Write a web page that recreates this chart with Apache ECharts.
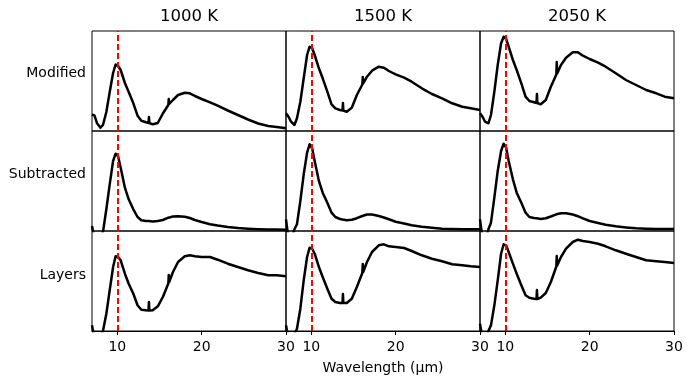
<!DOCTYPE html>
<html>
<head>
    <meta charset="UTF-8">
    <title>Spectra grid</title>
    <script src="https://cdn.jsdelivr.net/npm/echarts@6/dist/echarts.min.js"></script>
    <style>
        html, body {
            margin: 0;
            padding: 0;
            background: #fff;
        }

        #chartContainer {
            width: 692px;
            height: 385px;
        }
    </style>
</head>
<body>
<div id="chartContainer"></div>
<script>
    // shared wavelength grid (µm)
    var wavelength = [7, 7.3, 7.6, 8.0, 8.3, 8.7, 9.1, 9.5, 9.8, 10.1, 10.4, 10.9, 11.35, 11.9, 12.4, 12.85, 13.4,
        13.7, 13.75, 13.8, 14.2, 14.8, 15.4, 16.05, 16.1, 16.15, 16.6, 17.2, 18.0, 18.6, 19.2, 20, 21, 21.9,
        23.1, 24.3, 25.5, 26.7, 27.9, 28.9, 30];

    var temperatures = ['1000 K', '1500 K', '2050 K'];
    var methods = ['Modified', 'Subtracted', 'Layers'];
    var tickValues = [10, 20, 30];
    var markerWavelength = 10;

    // normalised intensity, one array per panel
    var modified1000 = [0.167, 0.153, 0.077, 0.033, 0.06, 0.19, 0.39, 0.58, 0.665, 0.65, 0.61, 0.48, 0.39, 0.277,
        0.153, 0.103, 0.087, 0.08, 0.14, 0.08, 0.067, 0.08, 0.175, 0.26, 0.32, 0.27, 0.31, 0.36, 0.383, 0.377, 0.35,
        0.32, 0.287, 0.253, 0.205, 0.16, 0.115, 0.075, 0.05, 0.04, 0.027];
    var modified1500 = [0.177, 0.143, 0.093, 0.06, 0.127, 0.293, 0.527, 0.76, 0.843, 0.827, 0.76, 0.627, 0.527,
        0.393, 0.267, 0.227, 0.21, 0.205, 0.28, 0.205, 0.193, 0.233, 0.36, 0.465, 0.54, 0.475, 0.543, 0.603, 0.643,
        0.633, 0.6, 0.567, 0.533, 0.493, 0.427, 0.37, 0.327, 0.277, 0.243, 0.227, 0.21];
    var modified2050 = [0.177, 0.143, 0.093, 0.077, 0.16, 0.393, 0.66, 0.877, 0.943, 0.92, 0.843, 0.71, 0.61,
        0.477, 0.343, 0.3, 0.287, 0.28, 0.37, 0.28, 0.267, 0.31, 0.443, 0.565, 0.69, 0.575, 0.66, 0.733, 0.787,
        0.787, 0.753, 0.72, 0.683, 0.643, 0.577, 0.51, 0.46, 0.41, 0.377, 0.343, 0.327];

    var subtracted1000 = [0.05, -0.08, -0.1, -0.05, -0.01, 0.217, 0.467, 0.7, 0.773, 0.745, 0.633, 0.433, 0.317,
        0.217, 0.14, 0.107, 0.1, 0.1, 0.12, 0.1, 0.095, 0.1, 0.11, 0.133, 0.135, 0.133, 0.145, 0.148, 0.142, 0.13,
        0.11, 0.09, 0.068, 0.055, 0.04, 0.03, 0.023, 0.018, 0.015, 0.014, 0.013];
    var subtracted1500 = [0.117, -0.08, -0.1, 0.017, 0.067, 0.3, 0.567, 0.783, 0.867, 0.827, 0.7, 0.5, 0.383,
        0.283, 0.183, 0.14, 0.12, 0.115, 0.13, 0.115, 0.108, 0.112, 0.128, 0.15, 0.152, 0.15, 0.165, 0.165, 0.15,
        0.135, 0.117, 0.093, 0.075, 0.057, 0.042, 0.032, 0.023, 0.02, 0.018, 0.017, 0.017];
    var subtracted2050 = [0.117, -0.08, -0.1, 0.017, 0.083, 0.333, 0.6, 0.8, 0.873, 0.833, 0.7, 0.517, 0.383,
        0.283, 0.183, 0.14, 0.13, 0.127, 0.14, 0.127, 0.12, 0.128, 0.145, 0.167, 0.169, 0.167, 0.178, 0.178, 0.165,
        0.148, 0.127, 0.1, 0.08, 0.062, 0.047, 0.036, 0.027, 0.023, 0.021, 0.02, 0.02];

    var layers1000 = [0.057, -0.08, -0.1, -0.05, 0.0, 0.173, 0.407, 0.64, 0.747, 0.74, 0.707, 0.573, 0.473, 0.373,
        0.257, 0.213, 0.207, 0.205, 0.29, 0.205, 0.207, 0.247, 0.34, 0.475, 0.56, 0.49, 0.59, 0.69, 0.747, 0.757,
        0.747, 0.74, 0.74, 0.713, 0.673, 0.64, 0.607, 0.58, 0.557, 0.557, 0.547];
    var layers1500 = [0.057, -0.08, -0.1, -0.03, 0.023, 0.223, 0.507, 0.74, 0.833, 0.823, 0.773, 0.64, 0.54,
        0.423, 0.323, 0.29, 0.28, 0.28, 0.37, 0.28, 0.28, 0.323, 0.44, 0.58, 0.67, 0.59, 0.69, 0.79, 0.857, 0.867,
        0.847, 0.84, 0.83, 0.8, 0.757, 0.723, 0.697, 0.667, 0.657, 0.647, 0.64];
    var layers2050 = [0.073, -0.08, -0.1, 0.0, 0.057, 0.257, 0.507, 0.773, 0.867, 0.857, 0.79, 0.673, 0.573,
        0.457, 0.357, 0.333, 0.323, 0.32, 0.41, 0.32, 0.333, 0.38, 0.49, 0.645, 0.75, 0.655, 0.74, 0.823, 0.89,
        0.913, 0.9, 0.89, 0.873, 0.847, 0.807, 0.773, 0.74, 0.707, 0.697, 0.69, 0.68];

    var panels = [
        [modified1000, modified1500, modified2050],
        [subtracted1000, subtracted1500, subtracted2050],
        [layers1000, layers1500, layers2050]
    ];

    var font = 'DejaVu Sans';

    function pairs(ys) {
        var out = [];
        for (var i = 0; i < wavelength.length; i++) {
            out.push([wavelength[i], ys[i]]);
        }
        return out;
    }

    function buildOption() {
        var grids = [], xAxes = [], yAxes = [], series = [], graphics = [];
        var lefts = [92, 286, 480];
        var tops = [31, 131, 231];
        var w = 194, h = 100;

        for (var r = 0; r < 3; r++) {
            for (var c = 0; c < 3; c++) {
                var idx = grids.length;
                var bottomRow = r === 2;
                grids.push({
                    left: lefts[c], top: tops[r], width: w, height: h,
                    show: true, borderColor: '#000', borderWidth: 1, backgroundColor: 'transparent'
                });
                xAxes.push({
                    type: 'value', gridIndex: idx, min: 7, max: 30,
                    axisLine: {show: bottomRow, lineStyle: {color: '#000', width: 1}},
                    axisTick: {show: bottomRow, inside: false, length: 4, customValues: tickValues,
                        lineStyle: {color: '#000', width: 1}},
                    axisLabel: {show: bottomRow, customValues: tickValues, margin: 9, color: '#000',
                        fontFamily: font, fontSize: 14},
                    splitLine: {show: false}
                });
                yAxes.push({
                    type: 'value', gridIndex: idx, min: 0, max: 1,
                    axisLine: {show: false}, axisTick: {show: false}, axisLabel: {show: false},
                    splitLine: {show: false}
                });
                series.push({
                    type: 'line', xAxisIndex: idx, yAxisIndex: idx,
                    data: pairs(panels[r][c]),
                    showSymbol: false, symbol: 'none', clip: true, z: 2,
                    lineStyle: {color: '#000', width: 2.5, join: 'round'},
                    animation: false
                });
                series.push({
                    type: 'line', xAxisIndex: idx, yAxisIndex: idx, data: [], z: 5,
                    animation: false,
                    markLine: {
                        silent: true, symbol: 'none', animation: false,
                        label: {show: false},
                        lineStyle: {color: '#ff0000', width: 2, type: [6, 3]},
                        data: [{xAxis: markerWavelength}]
                    }
                });
            }
        }

        for (var t = 0; t < 3; t++) {
            graphics.push({
                type: 'text', x: lefts[t] + w / 2, y: 17,
                style: {text: temperatures[t], fill: '#000', font: '16.5px "' + font + '"',
                    textAlign: 'center', textVerticalAlign: 'middle'}
            });
        }
        var labelY = [73, 174, 275];
        for (var m = 0; m < 3; m++) {
            graphics.push({
                type: 'text', x: 86, y: labelY[m],
                style: {text: methods[m], fill: '#000', font: '14px "' + font + '"',
                    textAlign: 'right', textVerticalAlign: 'middle'}
            });
        }
        graphics.push({
            type: 'text', x: 383, y: 368,
            style: {text: 'Wavelength (µm)', fill: '#000', font: '14px "' + font + '"',
                textAlign: 'center', textVerticalAlign: 'middle'}
        });

        return {
            animation: false,
            backgroundColor: '#fff',
            grid: grids, xAxis: xAxes, yAxis: yAxes, series: series,
            graphic: graphics
        };
    }

    window.onload = function () {
        var myChart = echarts.init(document.getElementById('chartContainer'));
        myChart.setOption(buildOption());
    };
</script>
</body>
</html>
